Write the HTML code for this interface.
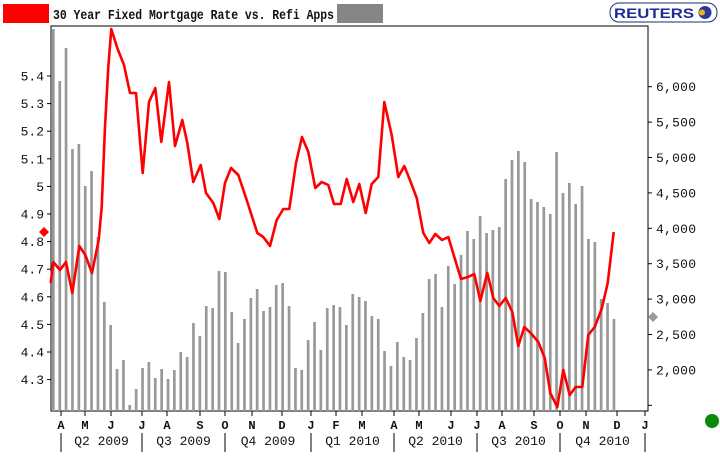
<!DOCTYPE html>
<html><head><meta charset="utf-8"><style>
html,body{margin:0;padding:0;background:#fff;width:720px;height:457px;overflow:hidden}
.m{font-family:"Liberation Mono","DejaVu Sans Mono","Courier New",monospace}
</style></head><body>
<svg id="s" width="720" height="457" xmlns="http://www.w3.org/2000/svg">
<rect x="3" y="4" width="46" height="19" fill="#ff0000"/>
<text class="m" x="53" y="19" font-size="14" font-weight="bold" fill="#111" textLength="281" lengthAdjust="spacingAndGlyphs">30 Year Fixed Mortgage Rate vs. Refi Apps</text>
<rect x="337" y="4" width="46" height="19" fill="#858585"/>
<rect x="610" y="3" width="107" height="19" rx="9" fill="#fff" stroke="#1c2a7a" stroke-width="1"/>
<text x="614" y="18" font-family="'Liberation Sans', sans-serif" font-size="14" font-weight="bold" fill="#1c2a9a" textLength="80" lengthAdjust="spacingAndGlyphs">REUTERS</text>
<circle cx="705" cy="12.5" r="6.5" fill="#2a3a9a"/>
<circle cx="702" cy="12.5" r="3" fill="#f0b020"/>
<rect x="51" y="26" width="597" height="385" fill="none" stroke="#000" stroke-width="1"/>
<g id="bars" fill="#999"></g>
<polyline id="line" fill="none" stroke="#ff0000" stroke-width="2.6" stroke-linejoin="round"></polyline>
<g id="ax" class="m" font-size="13" fill="#111"></g>
<polygon points="44,227 49,232 44,237 39,232" fill="#ff0000"/>
<polygon points="653,312 658,317 653,322 648,317" fill="#999"/>
<circle cx="712" cy="421" r="7" fill="#0a8a0a"/>
</svg>
<script>
var tops=[29,81,48,149,144,186,171,237,302,325,369,360,405,389,368,362,378,369,379,370,352,357,323,336,306,308,271,272,312,343,319,298,289,311,307,285,283,306,368,370,340,322,350,308,305,307,325,
294,297,301,316,319,351,366,342,357,360,338,313,279,274,307,266,284,255,231,239,216,233,230,227,179,160,151,162,199,202,207,214,152,193,183,204,186,239,242,299,303,319];
var g=document.getElementById('bars'),h='';
tops.forEach(function(t,i){var x=53.3+i*6.37;h+='<rect x="'+(x-1.3).toFixed(1)+'" y="'+t+'" width="2.7" height="'+(411-t)+'"/>';});
g.innerHTML=h;
var pts=[[50.7,283],[53.3,262],[60,270],[66,262],[72.3,293],[79.3,246],[85.3,255],[92,273],[98.7,240],[101.7,207],[105,127],[108.3,67],[111.3,29],[117.3,48],[124,65],[130,93],[136,93],[142.7,173],[149,102],[155.3,88],[161.3,142],[169,82],[175,146],[182.3,120],[187.3,143],[193.3,182],[200.7,165],[206,193],[213.3,203],[219.3,219],[225,183],[231,168],[238.3,175],[246.7,200],[257.3,233],[263.3,237],[270,246],[276.7,220],[283.3,209],[289.3,209],[296,163],[302,137],[308.3,152],[315.3,188],[321.7,182],[328.3,185],[334,204],[340.7,204],[346.7,179],[353.3,202],[359.3,184],[365.7,213],[371.7,184],[378.3,177],[384.3,102],[391.7,135],[398.3,177],[404.3,166],[410.3,181],[416.7,198],[423.3,233],[429.3,243],[435.3,234],[442,240],[448.3,237],[454.3,257],[461,279],[468,277],[474.3,274],[480.3,301],[487.3,273],[493.3,298],[499.3,306],[505.7,298],[512.3,312],[518.3,346],[524.3,327],[530.7,333],[538.3,342],[544.7,358],[550.3,393],[557.3,407],[563.3,370],[569.7,395],[575.7,387],[582.3,387],[588.3,335],[594.7,327],[601.7,309],[607.7,283],[613.7,232]];
document.getElementById('line').setAttribute('points',pts.map(function(p){return p.join(',')}).join(' '));
var a='';
var L=['5.4','5.3','5.2','5.1','5','4.9','4.8','4.7','4.6','4.5','4.4','4.3'];
L.forEach(function(l,i){var y=76+i*27.6;a+='<line x1="47" x2="51" y1="'+y+'" y2="'+y+'" stroke="#000"/><text x="44" y="'+(y+4.5)+'" text-anchor="end">'+l+'</text>';});
var R=['6,000','5,500','5,000','4,500','4,000','3,500','3,000','2,500','2,000',''];
R.forEach(function(l,i){var y=86.7+i*35.4;a+='<line x1="648" x2="652" y1="'+y+'" y2="'+y+'" stroke="#000"/>'+(l?'<text x="656" y="'+(y+4.5)+'" textLength="40" lengthAdjust="spacing">'+l+'</text>':'');});
var M=[['A',61],['M',85],['J',111],['J',142],['A',167],['S',200],['O',225],['N',252],['D',282],['J',311],['F',336],['M',362],['A',394],['M',419],['J',451],['J',477],['A',502],['S',534],['O',560],['N',586],['D',617],['J',645]];
M.forEach(function(m){a+='<line x1="'+m[1]+'" x2="'+m[1]+'" y1="411" y2="416" stroke="#000"/><text x="'+m[1]+'" y="429" text-anchor="middle" font-weight="bold" font-size="12">'+m[0]+'</text>';});
var Q=[61,142,225,311,394,477,560,645];
Q.forEach(function(x){a+='<line x1="'+x+'" x2="'+x+'" y1="433" y2="452" stroke="#000"/>';});
var QL=['Q2 2009','Q3 2009','Q4 2009','Q1 2010','Q2 2010','Q3 2010','Q4 2010'];
QL.forEach(function(l,i){a+='<text x="'+((Q[i]+Q[i+1])/2)+'" y="445" text-anchor="middle">'+l+'</text>';});
document.getElementById('ax').innerHTML=a;
</script>
</body></html>
